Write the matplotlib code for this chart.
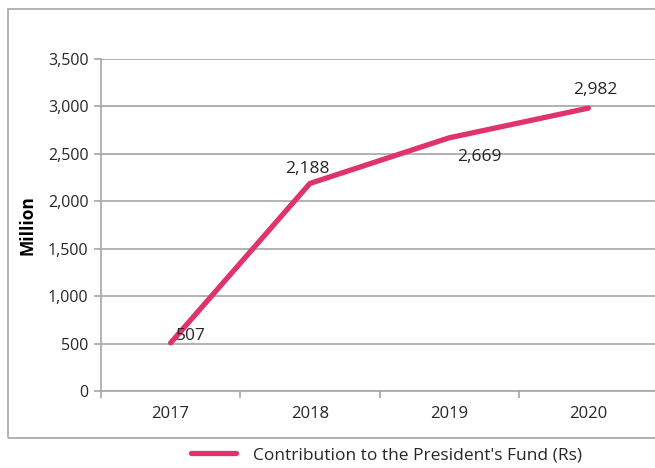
import matplotlib.pyplot as plt
from matplotlib.patches import Rectangle

plt.rcParams['font.family'] = ['Open Sans', 'DejaVu Sans']

years = ['2017', '2018', '2019', '2020']
values = [507, 2188, 2669, 2982]
labels = ['507', '2,188', '2,669', '2,982']
series_name = "Contribution to the President's Fund (Rs)"

pink = '#e0336b'
grey = '#a6a6a6'
txt = '#262626'

fig = plt.figure(figsize=(6.55, 4.68), dpi=100)
fig.patches.append(Rectangle((8 / 655, 1 - 438 / 468), 1.0, (438 - 9) / 468,
                             transform=fig.transFigure, fill=False,
                             edgecolor=grey, lw=1.2, zorder=0))

ax = fig.add_axes([101 / 655, 1 - 391 / 468, 557 / 655, 332 / 468])
x = list(range(len(years)))
line, = ax.plot(x, values, color=pink, lw=3.8, solid_capstyle='round',
                label=series_name, zorder=3)

ax.set_xlim(-0.5, 3.5)
ax.set_ylim(0, 3500)
ax.set_yticks(range(0, 3501, 500))
ax.set_yticklabels([f'{v:,}' for v in range(0, 3501, 500)])
ax.set_xticks(x)
ax.set_xticklabels(years)
ax.set_xticks([i - 0.5 for i in range(len(years) + 1)], minor=True)
ax.tick_params(axis='x', which='major', length=0, pad=11, labelsize=12, labelcolor=txt)
ax.tick_params(axis='x', which='minor', length=5, color=grey, width=1.2)
ax.tick_params(axis='y', length=5, color=grey, width=1.2, pad=4, labelsize=11.5, labelcolor=txt)
ax.grid(axis='y', color=grey, lw=1.2)
ax.set_axisbelow(True)
for s in ['top', 'right']:
    ax.spines[s].set_visible(False)
for s in ['left', 'bottom']:
    ax.spines[s].set_color(grey)
    ax.spines[s].set_linewidth(1.2)

offsets = [(4, 5, 'left', 'center'), (-2, 5, 'center', 'bottom'),
           (6, -8, 'left', 'top'), (5, 7, 'center', 'bottom')]
for xi, v, lab, (dx, dy, ha, va) in zip(x, values, labels, offsets):
    ax.annotate(lab, (xi, v), xytext=(dx, dy), textcoords='offset points',
                ha=ha, va=va, fontsize=12.5, color=txt, zorder=4)

ax.set_ylabel('Million', fontsize=12.5, fontweight='bold', color='black', labelpad=8)

fig.legend(handles=[line], loc='center', bbox_to_anchor=(0.59, 1 - 455 / 468),
           frameon=False, fontsize=12.5, handlelength=2.6, handletextpad=1.0,
           labelcolor=txt)

fig.savefig('out.png', dpi=100)
